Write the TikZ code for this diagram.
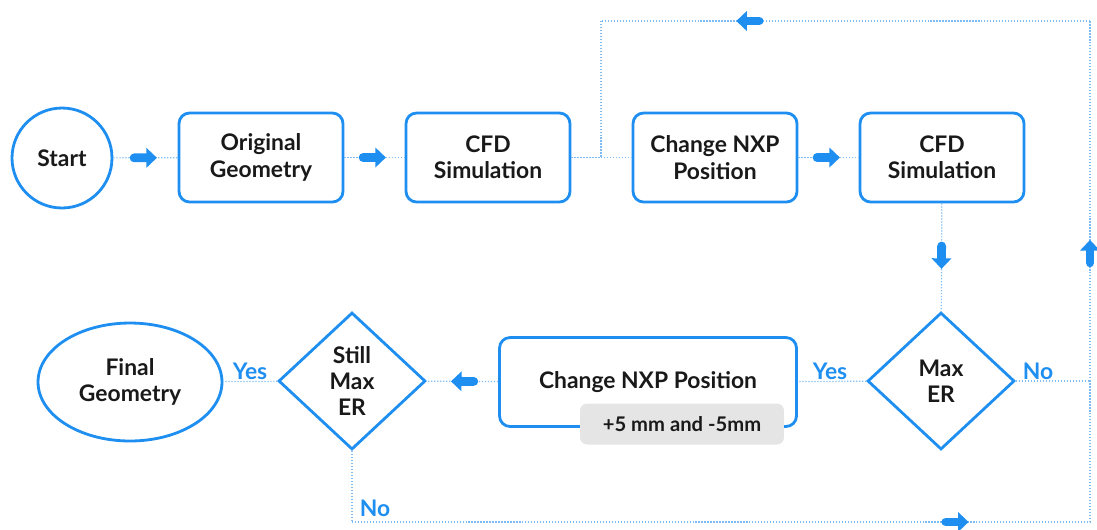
\documentclass[tikz,border=0pt]{standalone}
\usepackage{fontspec}
\setmainfont{Lato}
\usetikzlibrary{arrows.meta,shapes.geometric,decorations.markings}

\definecolor{flowblue}{RGB}{30,143,240}
\definecolor{linkblue}{RGB}{125,188,245}
\definecolor{taggray}{RGB}{229,229,229}
\definecolor{ink}{RGB}{25,25,25}

\tikzset{
  every node/.style={text=ink, font=\bfseries\fontsize{13}{15}\selectfont},
  box/.style={draw=flowblue, line width=1.6pt, rounded corners=6pt, align=center,
    minimum width=3.28cm, minimum height=1.78cm},
  decision/.style={diamond, draw=flowblue, line width=1.6pt, align=center, inner sep=0pt,
    minimum width=2.94cm, minimum height=2.74cm},
  terminal/.style={ellipse, draw=flowblue, line width=1.6pt, align=center, inner sep=0pt},
  tag/.style={fill=taggray, rounded corners=4pt, minimum width=4.08cm, minimum height=0.82cm,
    font=\bfseries\fontsize{11.5}{13}\selectfont},
  answer/.style={text=flowblue},
  link/.style={draw=linkblue, densely dotted, line width=0.7pt},
  arrowicon/.style={solid, draw=flowblue, line width=5pt, line cap=round,
    -{Triangle[length=6pt,width=11pt]}},
  flow/.style={postaction={decorate, decoration={markings,
    mark=at position #1 with {\draw[arrowicon] (-6.5pt,0) -- (6.5pt,0);}}}},
  flow/.default=0.5
}

\begin{document}
\begin{tikzpicture}[x=0.02cm,y=-0.02cm]
\useasboundingbox (0,0) rectangle (1097,529);

% top row
\node[terminal, minimum width=2cm, minimum height=2cm] (start) at (62,158) {Start};
\node[box] (orig) at (261,157.5) {Original\\Geometry};
\node[box] (cfd1) at (488,157.5) {CFD\\Simulation};
\node[box] (chg1) at (715,157.5) {Change NXP\\Position};
\node[box] (cfd2) at (942,157.5) {CFD\\Simulation};

% bottom row
\node[decision] (maxer) at (941,381) {Max\\ER};
\node[box, minimum width=5.94cm] (chg2) at (648,382) {Change NXP Position};
\node[tag] (offset) at (682,424) {+5 mm and -5mm};
\node[decision] (still) at (352,381) {Still\\Max\\ER};
\node[terminal, minimum width=3.68cm, minimum height=2.36cm] (final) at (130,382) {Final\\Geometry};

% loop corners
\coordinate (loopTL) at (601,21);
\coordinate (loopTR) at (1090,21);
\coordinate (loopR) at (1090,381);
\coordinate (loopBR) at (1090,522);
\coordinate (loopBL) at (352,522);

% main flow
\draw[link,flow] (start) -- (orig);
\draw[link,flow] (orig) -- (cfd1);
\draw[link] (cfd1) -- (chg1);
\draw[link,flow] (chg1) -- (cfd2);
\draw[link,flow] (cfd2) -- (maxer);
\draw[link] (maxer) -- (chg2);
\draw[link,flow] (chg2) -- (still);
\draw[link] (still) -- (final);

% back to a new position
\draw[link] (maxer.east) -- (loopR);
\draw[link,flow=0.36] (loopR) -- (loopTR);
\draw[link,flow=0.7] (loopTR) -- (loopTL);
\draw[link] (loopTL) -- (loopTL |- cfd1.east);
\draw[link] (still.south) -- (loopBL);
\draw[link,flow=0.82] (loopBL) -- (loopBR);
\draw[link] (loopBR) -- (loopR);

% answers
\node[answer] (yes1) at (830,371) {Yes};
\node[answer] (no1) at (1038,371) {No};
\node[answer] (yes2) at (250,371) {Yes};
\node[answer] (no2) at (375,508) {No};

\end{tikzpicture}
\end{document}
